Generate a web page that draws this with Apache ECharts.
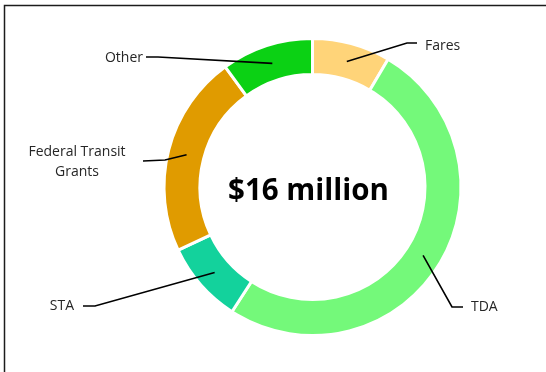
<!DOCTYPE html>
<html>
<head>
<meta charset="utf-8">
<script src="https://cdn.jsdelivr.net/npm/echarts@6/dist/echarts.min.js"></script>
<style>
  html, body { margin: 0; padding: 0; background: #fff; }
  #chart { width: 546px; height: 372px; }
</style>
</head>
<body>
<div id="chart"></div>
<script>
// Funding sources, in millions of dollars
const categories = ['Fares', 'TDA', 'STA', 'Federal Transit\nGrants', 'Other'];
const values = [1.36, 8.1, 1.42, 3.52, 1.6];
const colors = ['#FFD479', '#74F97A', '#13D29C', '#E09B00', '#0BD114'];

// Where each outside label sits and where its leader line bends
const labelSpots = [
  { x: 425, y: 46, align: 'left', bend: [407, 43], end: [417, 43] },
  { x: 471, y: 307, align: 'left', bend: [452, 307], end: [463, 307] },
  { x: 74, y: 306, align: 'right', bend: [95, 306], end: [83, 306] },
  { x: 77, y: 162, align: 'center', bend: [165, 160], end: [143, 161] },
  { x: 143, y: 58, align: 'right', bend: [158, 57], end: [146, 57] }
];

const total = values.reduce((a, b) => a + b, 0);
const centerText = '$' + Math.round(total) + ' million';

const pieData = categories.map((name, i) => ({ name, value: values[i], itemStyle: { color: colors[i] } }));
const labelData = categories.map((name, i) => ({ name, value: values[i] }));

const chart = echarts.init(document.getElementById('chart'), null, { renderer: 'canvas' });
chart.setOption({
  animation: false,
  graphic: [
    {
      type: 'rect',
      shape: { x: 4.5, y: 5.5, width: 600, height: 420 },
      style: { fill: 'none', stroke: '#1c1c1c', lineWidth: 1.5 },
      silent: true
    },
    {
      type: 'text',
      x: 308.5, y: 191.5,
      style: {
        text: centerText,
        font: 'bold 29.5px "Open Sans"',
        fill: '#000',
        textAlign: 'center',
        textVerticalAlign: 'middle'
      },
      z: 10
    }
  ],
  series: [
    {
      type: 'pie',
      z: 2,
      center: [312.5, 187],
      radius: [112.5, 148.5],
      startAngle: 90,
      clockwise: true,
      avoidLabelOverlap: false,
      silent: true,
      label: { show: false },
      labelLine: { show: false },
      itemStyle: { borderColor: '#fff', borderWidth: 3 },
      data: pieData
    },
    {
      // invisible ring carrying the labels so leader lines start mid-band
      type: 'pie',
      z: 5,
      center: [312.5, 187],
      radius: [0, 130],
      startAngle: 90,
      clockwise: true,
      avoidLabelOverlap: false,
      silent: true,
      itemStyle: { color: 'rgba(0,0,0,0)' },
      label: {
        show: true,
        position: 'outside',
        formatter: '{b}',
        fontFamily: 'Open Sans',
        fontSize: 14,
        lineHeight: 20,
        color: '#262626'
      },
      labelLine: {
        show: true,
        length: 10,
        length2: 10,
        lineStyle: { color: '#000', width: 1.6 }
      },
      labelLayout: function (params) {
        const s = labelSpots[params.dataIndex];
        const p0 = params.labelLinePoints ? params.labelLinePoints[0] : s.bend;
        return {
          x: s.x,
          y: s.y,
          align: s.align,
          verticalAlign: 'middle',
          labelLinePoints: [p0, s.bend, s.end]
        };
      },
      data: labelData
    }
  ]
});
</script>
</body>
</html>
